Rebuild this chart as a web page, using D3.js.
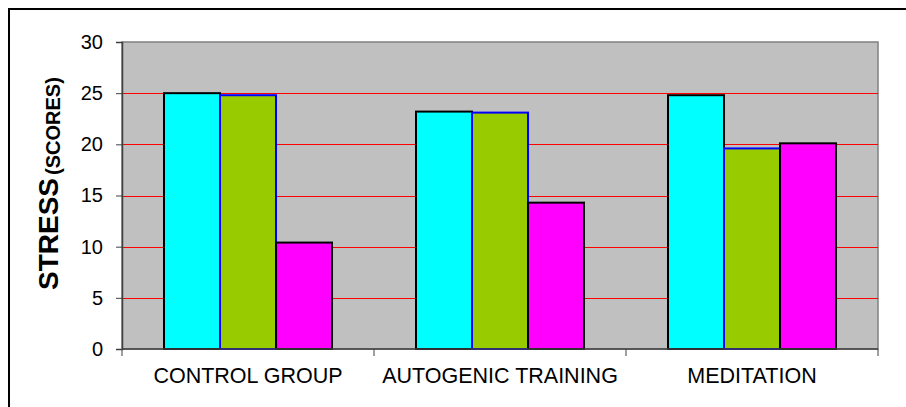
<!DOCTYPE html>
<html lang="en">
<head>
<meta charset="UTF-8">
<title>Stress scores</title>
<script src="https://cdn.jsdelivr.net/npm/d3@7"></script>
<style>
  body { margin: 0; background: #fff; font-family: "Liberation Sans", Arial, sans-serif; }
  svg { display: block; }
</style>
</head>
<body>
<div id="chart"></div>
<script>
// data
var categories = ['CONTROL GROUP', 'AUTOGENIC TRAINING', 'MEDITATION'];
var seriesNames = ['s1', 's2', 's3'];
var seriesCyan = [25.0, 23.2, 24.8];
var seriesGreen = [24.8, 23.1, 19.6];
var seriesMagenta = [10.4, 14.3, 20.1];
var yTicks = [0, 5, 10, 15, 20, 25, 30];

var w = 906, h = 407;
var m = {top: 42, left: 122, right: 28, bottom: 58};
var innerW = w - m.left - m.right;
var innerH = h - m.top - m.bottom;

var fills = {s1: '#00ffff', s2: '#99cc00', s3: '#ff00ff'};
var strokes = {s1: '#000000', s2: '#0000ff', s3: '#000000'};

var rows = categories.map(function(c, i) {
    return {cat: c, s1: seriesCyan[i], s2: seriesGreen[i], s3: seriesMagenta[i]};
});

var svg = d3.select('#chart').append('svg')
    .attr('width', w)
    .attr('height', h);

// outer frame (only top and left edges show in the window)
svg.append('rect')
    .attr('x', 9).attr('y', 9)
    .attr('width', w + 20).attr('height', h + 20)
    .attr('fill', 'none')
    .attr('stroke', '#000')
    .attr('stroke-width', 2);

var g = svg.append('g').attr('transform', 'translate(' + m.left + ',' + m.top + ')');

var y = d3.scaleLinear().domain([0, 30]).range([innerH, 0]);

// category slots (no padding) for the tick marks
var xSlot = d3.scaleBand().domain(categories).range([0, innerW]).padding(0);
// bars take the middle two thirds of each slot
var x0 = d3.scaleBand().domain(categories).range([0, innerW])
    .paddingInner(1 / 3).paddingOuter(1 / 6);
var x1 = d3.scaleBand().domain(seriesNames).range([0, x0.bandwidth()]);

// plot background
g.append('rect')
    .attr('width', innerW).attr('height', innerH)
    .attr('fill', '#c0c0c0')
    .attr('stroke', '#808080')
    .attr('stroke-width', 1.5);

// red gridlines
g.append('g').selectAll('line')
    .data(yTicks.filter(function(d) { return d > 0 && d < 30; }))
    .enter().append('line')
    .attr('x1', 0).attr('x2', innerW)
    .attr('y1', function(d) { return Math.round(y(d)) + 0.5; })
    .attr('y2', function(d) { return Math.round(y(d)) + 0.5; })
    .attr('stroke', '#ff0000')
    .attr('stroke-width', 1);

// bars
var groups = g.append('g').selectAll('g')
    .data(rows)
    .enter().append('g')
    .attr('transform', function(d) { return 'translate(' + x0(d.cat) + ',0)'; });

groups.selectAll('rect')
    .data(function(d) { return seriesNames.map(function(k) { return {key: k, value: d[k]}; }); })
    .enter().append('rect')
    .attr('x', function(d) { return x1(d.key); })
    .attr('y', function(d) { return y(d.value); })
    .attr('width', x1.bandwidth())
    .attr('height', function(d) { return innerH - y(d.value); })
    .attr('fill', function(d) { return fills[d.key]; })
    .attr('stroke', function(d) { return strokes[d.key]; })
    .attr('stroke-width', 2);

// y axis
var yAxis = d3.axisLeft(y).tickValues(yTicks).tickSize(6).tickPadding(13);
var yG = g.append('g').call(yAxis);
yG.select('.domain').attr('stroke', '#404040').attr('stroke-width', 1.5);
yG.selectAll('.tick line').attr('stroke', '#404040');
yG.selectAll('text')
    .attr('font-family', '"Liberation Sans", Arial, sans-serif')
    .attr('font-size', '20px')
    .attr('fill', '#000');

// x axis: ticks at slot boundaries, labels centred in slots
var xG = g.append('g').attr('transform', 'translate(0,' + innerH + ')');
xG.append('line')
    .attr('x1', 0).attr('x2', innerW)
    .attr('stroke', '#404040').attr('stroke-width', 1.5);
var bounds = [0].concat(categories.map(function(c) { return xSlot(c) + xSlot.bandwidth(); }));
xG.selectAll('.xtick')
    .data(bounds)
    .enter().append('line')
    .attr('class', 'xtick')
    .attr('x1', function(d) { return d; }).attr('x2', function(d) { return d; })
    .attr('y1', 0).attr('y2', 7)
    .attr('stroke', '#404040');
xG.selectAll('.xlabel')
    .data(categories)
    .enter().append('text')
    .attr('class', 'xlabel')
    .attr('x', function(d) { return xSlot(d) + xSlot.bandwidth() / 2; })
    .attr('y', 34)
    .attr('text-anchor', 'middle')
    .attr('font-size', '21.5px')
    .attr('fill', '#000')
    .text(function(d) { return d; });

// y title
var title = svg.append('text')
    .attr('transform', 'translate(58,290) rotate(-90)')
    .attr('font-weight', 'bold')
    .attr('fill', '#000');
title.append('tspan').attr('font-size', '28px').text('STRESS');
title.append('tspan').attr('font-size', '20px').attr('dx', 3).attr('dy', 2).text('(SCORES)');
</script>
</body>
</html>
